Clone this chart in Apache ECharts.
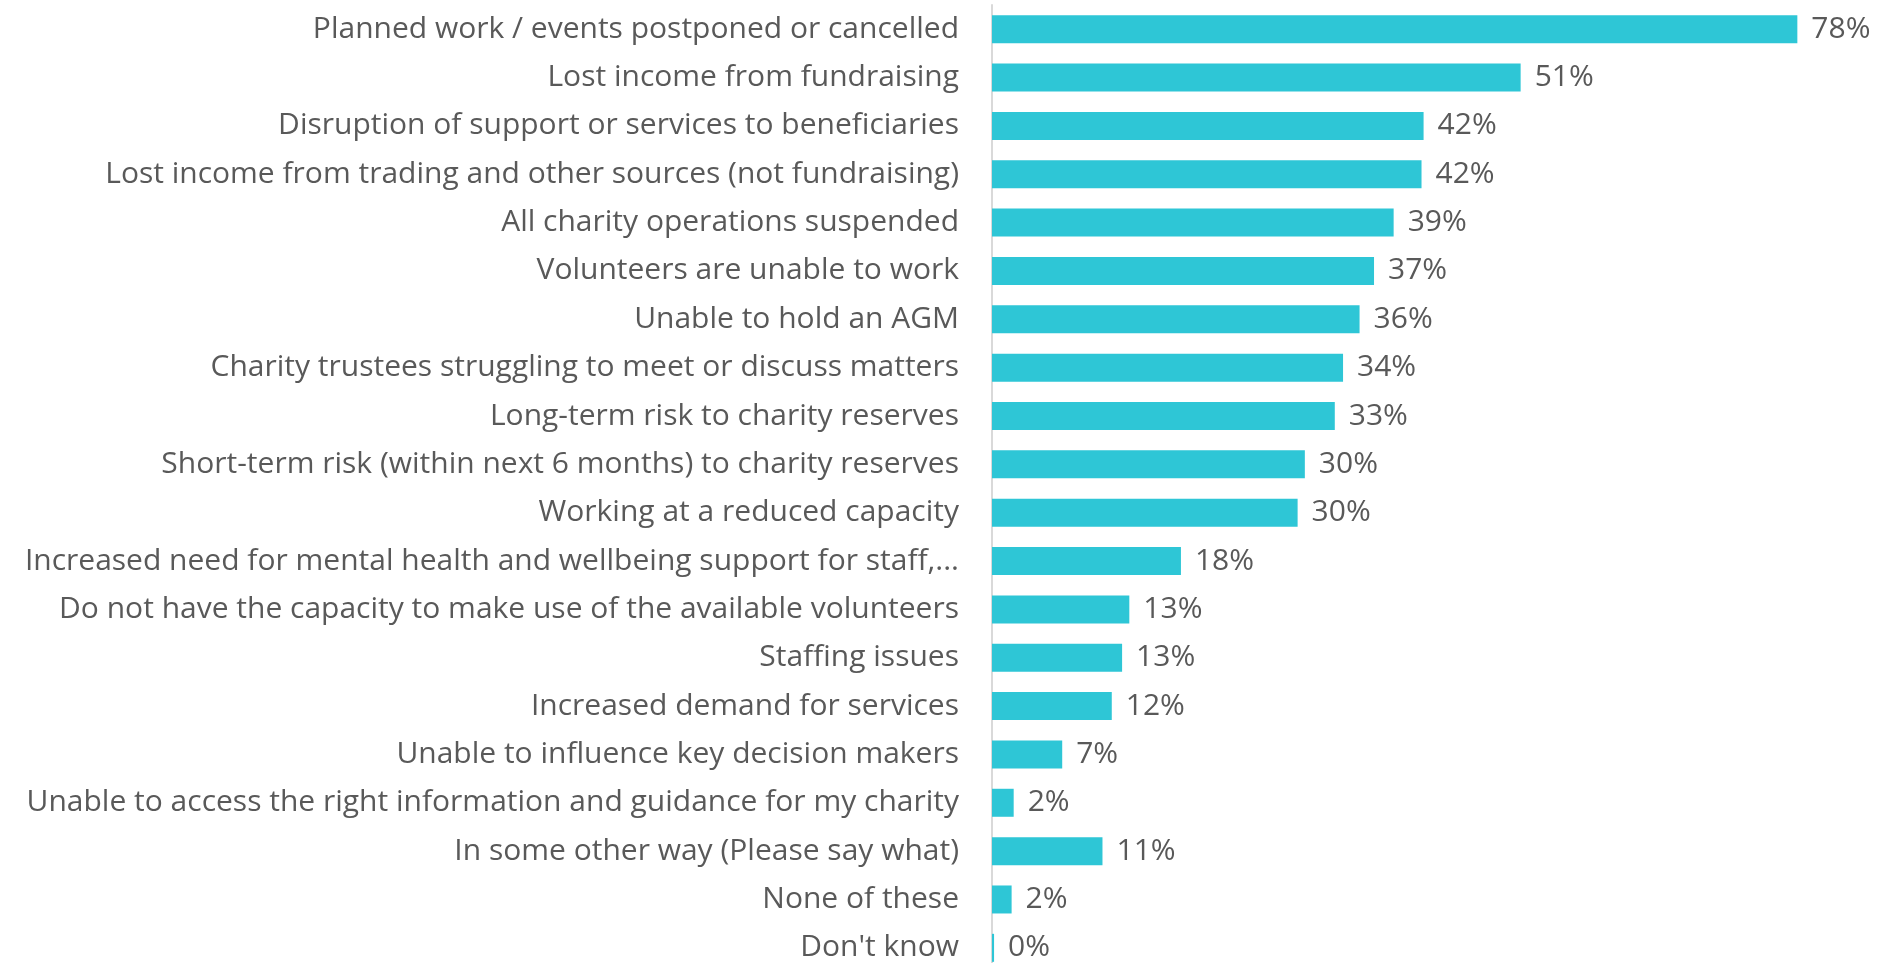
<!DOCTYPE html>
<html>
<head>
<meta charset="utf-8">
<script src="https://cdn.jsdelivr.net/npm/echarts@6/dist/echarts.min.js"></script>
<style>
  html, body { margin: 0; padding: 0; background: #fff; overflow: hidden; }
  /* the last row runs past the bottom edge in the original, so the canvas is a bit taller than the window */
  #chart { width: 1878px; height: 985px; }
</style>
</head>
<body>
<div id="chart"></div>
<script>
// categories, top to bottom as in the picture
var categories = [
    'Planned work / events postponed or cancelled',
    'Lost income from fundraising',
    'Disruption of support or services to beneficiaries',
    'Lost income from trading and other sources (not fundraising)',
    'All charity operations suspended',
    'Volunteers are unable to work',
    'Unable to hold an AGM',
    'Charity trustees struggling to meet or discuss matters',
    'Long-term risk to charity reserves',
    'Short-term risk (within next 6 months) to charity reserves',
    'Working at a reduced capacity',
    'Increased need for mental health and wellbeing support for staff,...',
    'Do not have the capacity to make use of the available volunteers',
    'Staffing issues',
    'Increased demand for services',
    'Unable to influence key decision makers',
    'Unable to access the right information and guidance for my charity',
    'In some other way (Please say what)',
    'None of these',
    "Don't know"
]
// percentages (bar lengths, labels shown rounded)
var values = [78, 51.2, 41.8, 41.6, 38.9, 37, 35.6, 34, 33.2, 30.3, 29.6, 18.3, 13.3, 12.6, 11.6, 6.8, 2.1, 10.7, 1.9, 0.2]

var myChart = echarts.init(document.getElementById('chart'))
var textColor = '#595959'
var fontFamily = '"Open Sans", "Noto Sans", sans-serif'

var option = {
    animation: false,
    grid: {
        left: 992,
        width: 826,
        top: 5,
        height: 967,
        containLabel: false
    },
    xAxis: {
        type: 'value',
        min: 0,
        max: 80,
        show: false
    },
    yAxis: {
        type: 'category',
        inverse: true,
        data: categories,
        axisLine: { show: true, lineStyle: { color: '#d9d9d9', width: 2 } },
        axisTick: { show: false },
        axisLabel: {
            color: textColor,
            fontSize: 30,
            fontFamily: fontFamily,
            margin: 33
        }
    },
    series: [
        {
            type: 'bar',
            data: values,
            barWidth: 28,
            itemStyle: { color: '#2ec6d6' },
            label: {
                show: true,
                position: 'right',
                distance: 14,
                color: textColor,
                fontSize: 30,
                fontFamily: fontFamily,
                formatter: function (p) {
                    return Math.round(p.value) + '%'
                }
            }
        }
    ]
}

myChart.setOption(option)
window.addEventListener('resize', myChart.resize)
</script>
</body>
</html>
